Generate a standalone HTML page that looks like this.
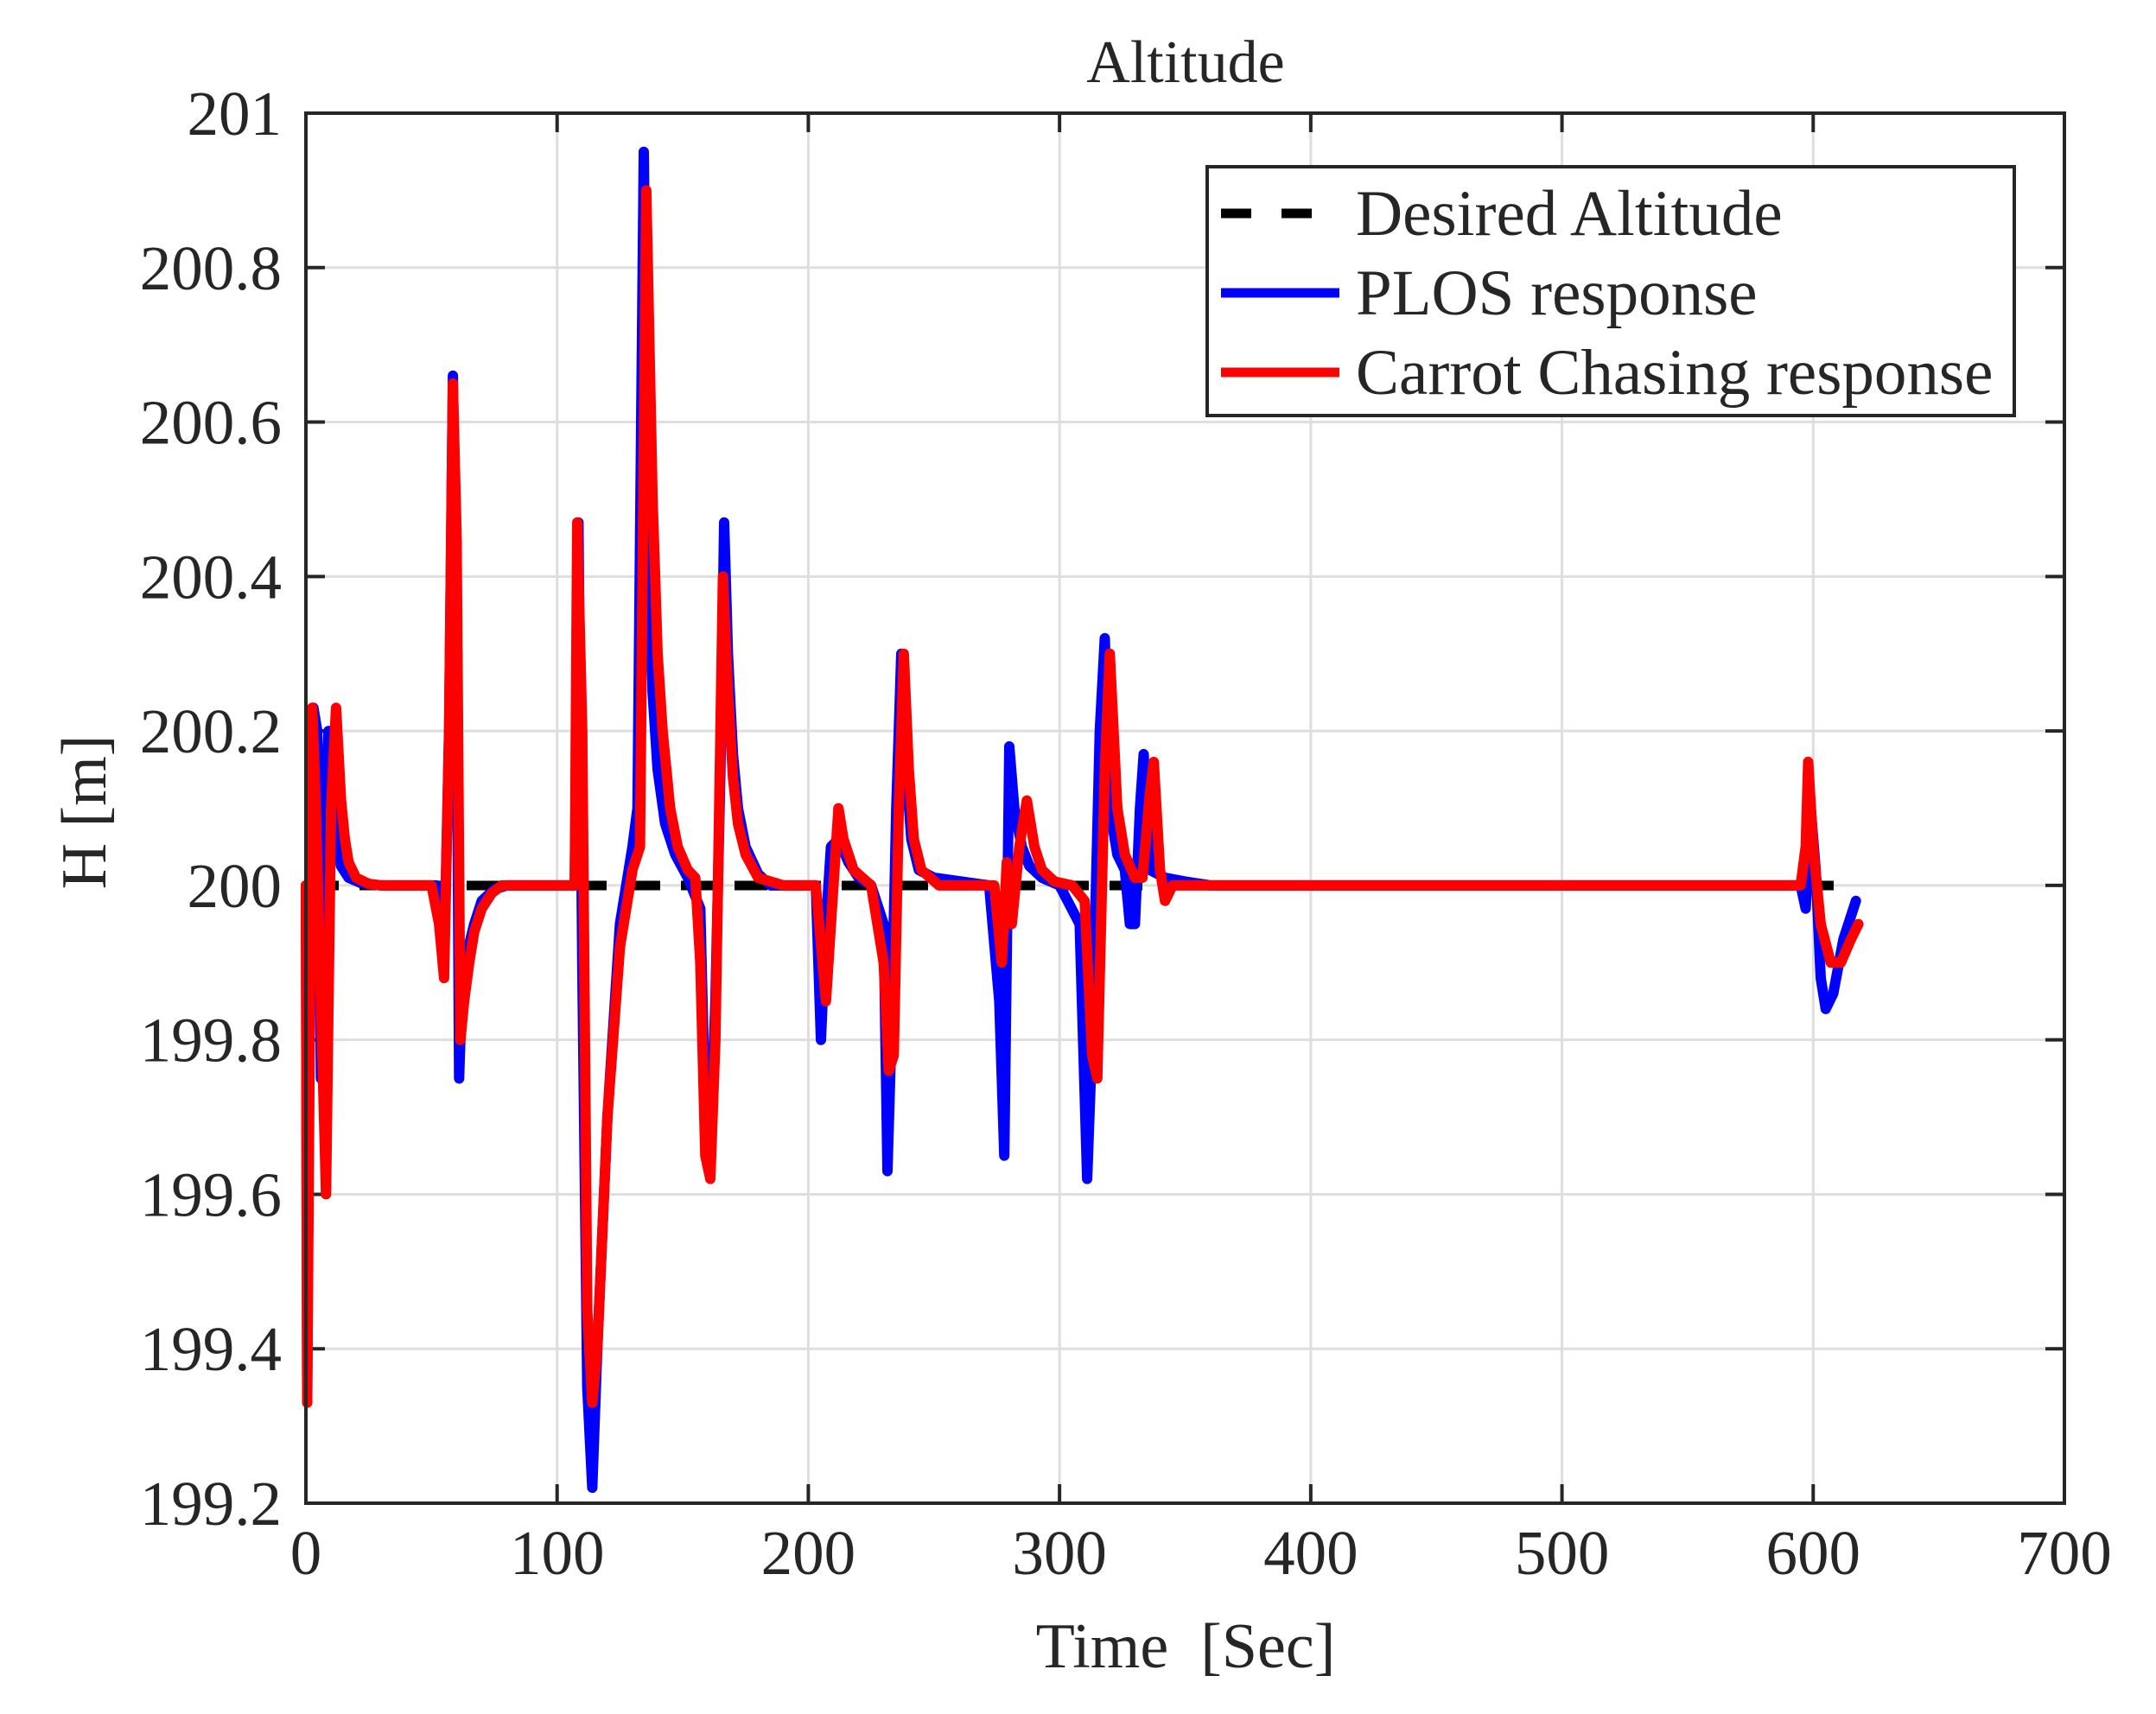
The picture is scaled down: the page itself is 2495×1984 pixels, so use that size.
<!DOCTYPE html>
<html><head><meta charset="utf-8">
<style>
html,body{margin:0;padding:0;background:#fff;}
svg{display:block;}
text{font-family:"Liberation Serif",serif;fill:#262626;}
</style></head>
<body>
<svg id="s" width="2495" height="1984" viewBox="0 0 2495 1984" xmlns="http://www.w3.org/2000/svg">
<rect width="2495" height="1984" fill="#fff"/>
<g id="grid" stroke="#dedede" stroke-width="3"></g>
<g id="ticks" stroke="#262626" stroke-width="4"></g>
<line x1="354" y1="1025" x2="2122" y2="1025" stroke="#000" stroke-width="11" stroke-dasharray="38,24"/>
<polyline id="blue" fill="none" stroke="#0000ff" stroke-width="12" stroke-linejoin="round" stroke-linecap="round"/>
<polyline id="red" fill="none" stroke="#ff0000" stroke-width="12" stroke-linejoin="round" stroke-linecap="round"/>
<rect x="354" y="131" width="2035" height="1609" fill="none" stroke="#262626" stroke-width="4"/>
<g id="labels" font-size="73"></g>
<text x="1372" y="95" font-size="70" text-anchor="middle">Altitude</text>
<text x="1372" y="1930" font-size="74" text-anchor="middle" xml:space="preserve">Time  [Sec]</text>
<text transform="translate(122,940) rotate(-90)" font-size="74" text-anchor="middle">H [m]</text>
<rect x="1397" y="193" width="934" height="288" fill="#fff" stroke="#262626" stroke-width="4"/>
<line x1="1413" y1="247" x2="1530" y2="247" stroke="#000" stroke-width="11" stroke-dasharray="35,35"/>
<line x1="1413" y1="339" x2="1550" y2="339" stroke="#0000ff" stroke-width="11"/>
<line x1="1413" y1="431" x2="1550" y2="431" stroke="#ff0000" stroke-width="11"/>
<text x="1569" y="272" font-size="75">Desired Altitude</text>
<text x="1569" y="364" font-size="75">PLOS response</text>
<text x="1569" y="456" font-size="75">Carrot Chasing response</text>
</svg>
<script>
var NS="http://www.w3.org/2000/svg";
function X(t){return 354+t*2035/700;}
function Y(h){return 131+(201-h)*1609/1.8;}
var g=document.getElementById('grid'),tk=document.getElementById('ticks'),lb=document.getElementById('labels');
function L(p,x1,y1,x2,y2){var l=document.createElementNS(NS,'line');l.setAttribute('x1',x1);l.setAttribute('y1',y1);l.setAttribute('x2',x2);l.setAttribute('y2',y2);p.appendChild(l);}
function T(x,y,s,a){var t=document.createElementNS(NS,'text');t.setAttribute('x',x);t.setAttribute('y',y);t.setAttribute('text-anchor',a);t.textContent=s;lb.appendChild(t);}
for(var i=0;i<=7;i++){var x=X(i*100);if(i>0&&i<7)L(g,x,131,x,1740);L(tk,x,1740,x,1718);L(tk,x,131,x,153);T(x,1822,String(i*100),'middle');}
var yl=["199.2","199.4","199.6","199.8","200","200.2","200.4","200.6","200.8","201"];
for(var j=0;j<=9;j++){var h=199.2+j*0.2,y=Y(h);if(j>0&&j<9)L(g,354,y,2389,y);L(tk,354,y,376,y);L(tk,2389,y,2367,y);T(326,y+25,yl[j],'end');}
var blue=[[0,200],[0.5,199.35],[1.5,199.9],[3,200.23],[4.5,200.2],[6,199.75],[7.5,200.1],[9,200.2],[10,200.13],[11,200.08],[12,200.05],[14,200.025],[17,200.01],[22,200.003],[30,200],[52,200],[55,199.9],[57,200.2],[58.5,200.66],[60,200.3],[61,199.75],[62,199.85],[64,199.91],[67,199.95],[70,199.98],[75,199.995],[80,200],[107,200],[108.5,200.47],[110,199.9],[112,199.35],[114,199.22],[116,199.4],[120,199.7],[125,199.95],[130,200.05],[132,200.1],[134.5,200.95],[136,200.5],[138,200.25],[140,200.15],[143,200.08],[147,200.04],[152,200.01],[157,199.97],[159,199.7],[161,199.65],[163,199.85],[165,200.15],[166.5,200.47],[168,200.3],[170,200.17],[172,200.1],[175,200.05],[180,200.015],[185,200],[203,200],[205,199.8],[207,199.95],[209,200.05],[212,200.06],[216,200.03],[220,200.01],[225,200],[230,199.95],[231.5,199.63],[233,199.8],[235,200.1],[237,200.3],[239,200.15],[241,200.06],[244,200.02],[250,200.01],[272,200],[276,199.85],[278,199.65],[280,200.18],[282,200.1],[285,200.05],[288,200.025],[293,200.01],[300,200],[308,199.95],[311,199.62],[313,199.8],[316,200.2],[318,200.32],[320,200.1],[323,200.04],[326,200.02],[328,199.95],[330,199.95],[332,200.1],[333.5,200.17],[336,200.02],[342,200.01],[350,200.005],[360,200],[595,200],[597,199.97],[599,200.1],[601,200.02],[603,199.88],[605,199.84],[608,199.86],[612,199.93],[617,199.98]];
var red=[[0,200],[0.5,199.33],[1.5,199.8],[2.5,200.23],[4,200.1],[6,199.85],[8,199.6],[10,200.1],[12,200.23],[13,200.17],[14,200.11],[15.5,200.06],[17,200.03],[20,200.01],[25,200.002],[30,200],[50,200],[53,199.95],[55,199.88],[57,200.2],[58.5,200.65],[60,200.45],[61.5,199.8],[63,199.85],[65,199.9],[67,199.94],[70,199.97],[74,199.99],[78,200],[107,200],[108,200.47],[110,200.2],[112,199.45],[114,199.33],[116,199.4],[120,199.7],[125,199.92],[130,200.02],[133,200.05],[135.5,200.9],[138,200.5],[140,200.3],[142,200.2],[145,200.1],[148,200.05],[152,200.02],[155,200.01],[157,199.9],[159,199.65],[161,199.62],[163,199.8],[166,200.4],[168,200.25],[170,200.14],[172,200.08],[175,200.04],[180,200.01],[190,200],[203,200],[207,199.85],[209,199.95],[212,200.1],[214,200.06],[218,200.02],[225,200],[230,199.9],[232,199.76],[234,199.78],[236,200.1],[238,200.3],[240,200.15],[242,200.06],[245,200.02],[252,200],[274,200],[277,199.9],[279,200.03],[281,199.95],[284,200.05],[287,200.11],[290,200.05],[293,200.02],[298,200.005],[305,200],[310,199.98],[313,199.78],[315,199.75],[318,200.15],[320,200.3],[323,200.1],[326,200.04],[330,200.01],[333,200.01],[336,200.12],[337.5,200.16],[340,200.02],[342,199.98],[345,200],[360,200],[595,200],[597,200.05],[598,200.16],[600,200.05],[603,199.95],[607,199.9],[611,199.9],[615,199.93],[618,199.95]];
function P(d){return d.map(function(p){return X(p[0]).toFixed(1)+','+Y(p[1]).toFixed(1);}).join(' ');}
document.getElementById('blue').setAttribute('points',P(blue));
document.getElementById('red').setAttribute('points',P(red));
</script>
</body></html>
